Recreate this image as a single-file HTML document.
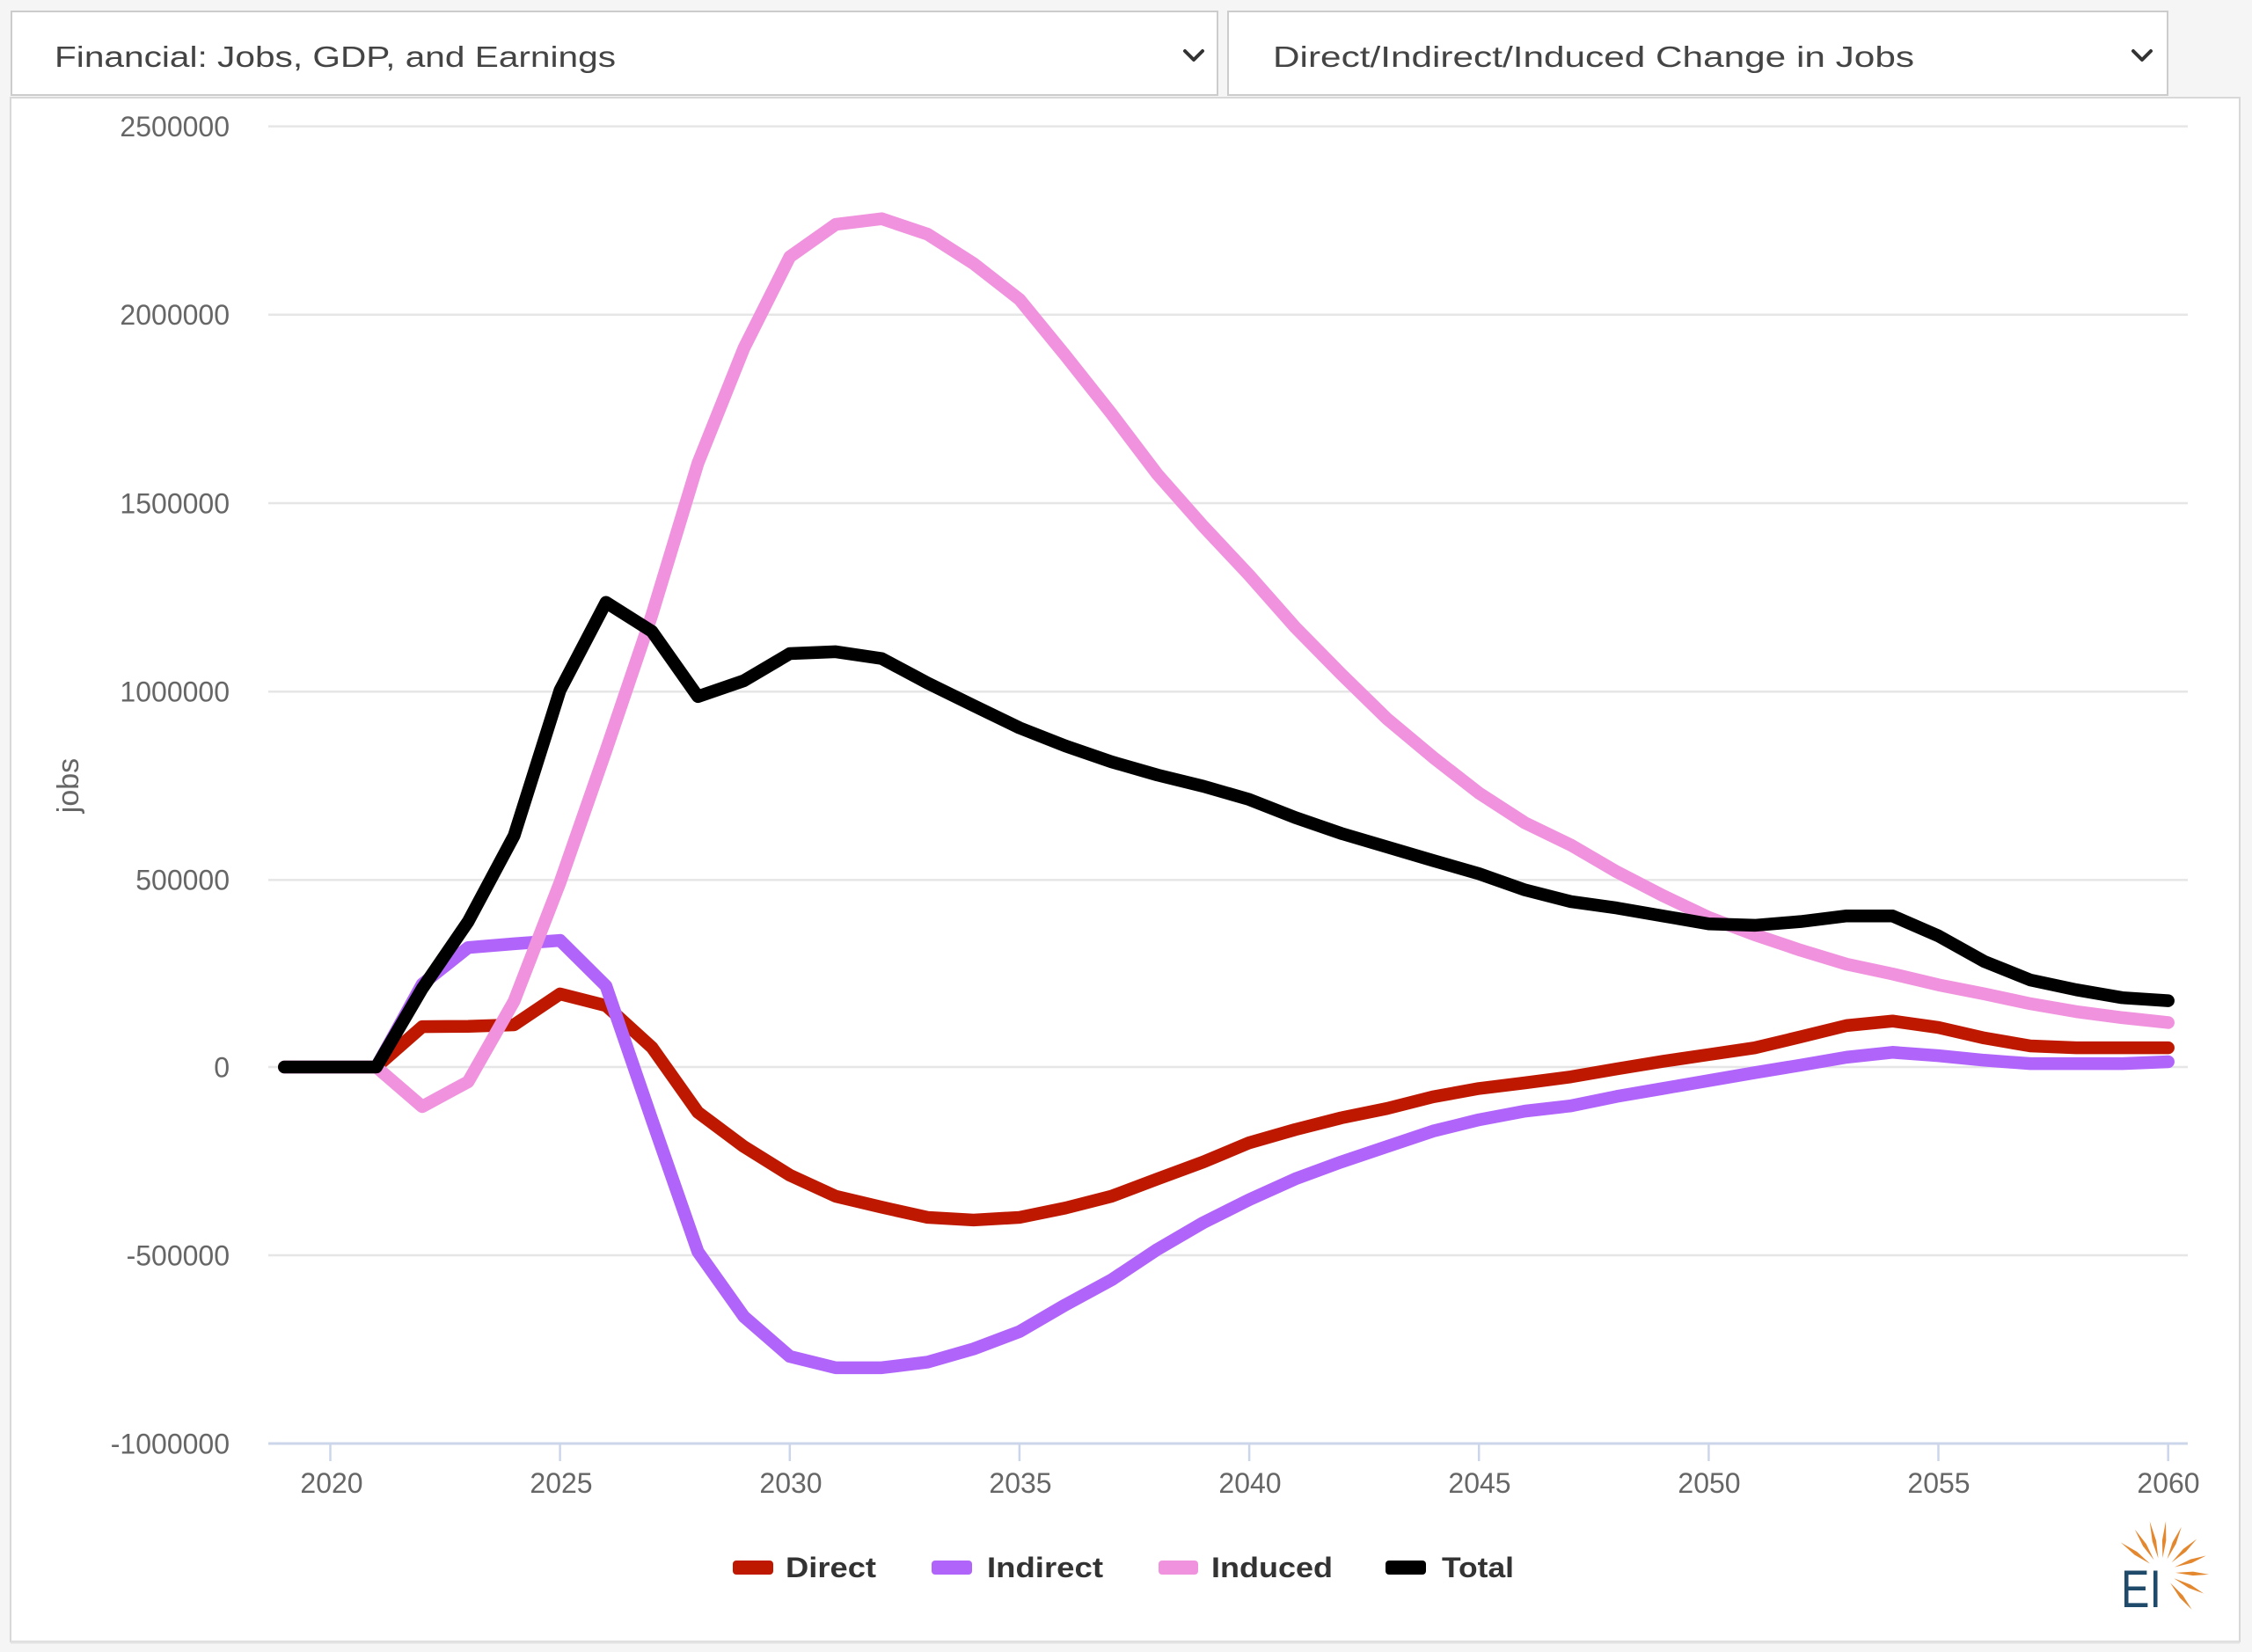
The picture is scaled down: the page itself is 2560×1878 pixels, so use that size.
<!DOCTYPE html>
<html>
<head>
<meta charset="utf-8">
<style>
  html,body{margin:0;padding:0;background:#f5f5f5;}
  body{width:2560px;height:1878px;overflow:hidden;}
  svg{display:block;}
</style>
</head>
<body>
<svg width="2560" height="1878" viewBox="0 0 2560 1878" xmlns="http://www.w3.org/2000/svg" font-family="'Liberation Sans', Arial, sans-serif">
  <rect x="0" y="0" width="2560" height="1878" fill="#f5f5f5"/>

  <rect x="12" y="111" width="2534" height="1755" fill="#ffffff" stroke="#d8d8d8" stroke-width="2"/>
  <line x1="12" y1="1867" x2="2546" y2="1867" stroke="#e2e2e2" stroke-width="3"/>

  <rect x="13" y="13" width="1371" height="95" fill="#ffffff" stroke="#cccccc" stroke-width="2"/>
  <text x="62" y="76" font-size="33" fill="#444444" textLength="638" lengthAdjust="spacingAndGlyphs">Financial: Jobs, GDP, and Earnings</text>
  <polyline points="1347,58 1357,68 1367,58" fill="none" stroke="#333" stroke-width="4" stroke-linecap="round" stroke-linejoin="round"/>

  <rect x="1396" y="13" width="1068" height="95" fill="#ffffff" stroke="#cccccc" stroke-width="2"/>
  <text x="1447" y="76" font-size="33" fill="#444444" textLength="729" lengthAdjust="spacingAndGlyphs">Direct/Indirect/Induced Change in Jobs</text>
  <polyline points="2425,58 2435,68 2445,58" fill="none" stroke="#333" stroke-width="4" stroke-linecap="round" stroke-linejoin="round"/>

  <g stroke="#e6e6e6" stroke-width="2.5">
    <line x1="305" y1="143.6" x2="2487" y2="143.6"/>
    <line x1="305" y1="357.8" x2="2487" y2="357.8"/>
    <line x1="305" y1="572" x2="2487" y2="572"/>
    <line x1="305" y1="786.2" x2="2487" y2="786.2"/>
    <line x1="305" y1="1000.4" x2="2487" y2="1000.4"/>
    <line x1="305" y1="1213" x2="2487" y2="1213"/>
    <line x1="305" y1="1427" x2="2487" y2="1427"/>
  </g>
  <line x1="305" y1="1641" x2="2487" y2="1641" stroke="#ccd6eb" stroke-width="3"/>
  <g stroke="#ccd6eb" stroke-width="2.5">
    <line x1="375.5" y1="1641" x2="375.5" y2="1661"/>
    <line x1="636.6" y1="1641" x2="636.6" y2="1661"/>
    <line x1="897.8" y1="1641" x2="897.8" y2="1661"/>
    <line x1="1158.9" y1="1641" x2="1158.9" y2="1661"/>
    <line x1="1420.1" y1="1641" x2="1420.1" y2="1661"/>
    <line x1="1681.2" y1="1641" x2="1681.2" y2="1661"/>
    <line x1="1942.4" y1="1641" x2="1942.4" y2="1661"/>
    <line x1="2203.5" y1="1641" x2="2203.5" y2="1661"/>
    <line x1="2464.7" y1="1641" x2="2464.7" y2="1661"/>
  </g>

  <g font-size="32" fill="#666666" text-anchor="end">
    <text x="261" y="155">2500000</text>
    <text x="261" y="369">2000000</text>
    <text x="261" y="583.5">1500000</text>
    <text x="261" y="797.5">1000000</text>
    <text x="261" y="1011.5">500000</text>
    <text x="261" y="1224.5">0</text>
    <text x="261" y="1438.5">-500000</text>
    <text x="261" y="1652.5">-1000000</text>
  </g>

  <g font-size="32" fill="#666666" text-anchor="middle">
    <text x="377" y="1697">2020</text>
    <text x="638" y="1697">2025</text>
    <text x="899" y="1697">2030</text>
    <text x="1160" y="1697">2035</text>
    <text x="1421" y="1697">2040</text>
    <text x="1682" y="1697">2045</text>
    <text x="1943" y="1697">2050</text>
    <text x="2204" y="1697">2055</text>
    <text x="2465" y="1697">2060</text>
  </g>

  <text transform="translate(89,893) rotate(-90)" font-size="34" fill="#666666" text-anchor="middle">jobs</text>

  <g transform="matrix(52.23 0 0 -0.4284 323.27 1213)" fill="none" stroke-linejoin="round" stroke-linecap="round">
    <polyline vector-effect="non-scaling-stroke" stroke="#be1900" stroke-width="14.5"
      points="0,0 1,0 2,0 3,107 4,108 5,112 6,194 7,163 8,52 9,-120 10,-211 11,-287 12,-343 13,-372 14,-399 15,-406 16,-399 17,-374 18,-343 19,-297 20,-252 21,-201 22,-166 23,-135 24,-110 25,-79 26,-57 27,-42 28,-26 29,-5 30,15 31,33 32,51 33,80 34,110 35,122 36,105 37,77 38,56 39,51 40,51 41,51"/>
    <polyline vector-effect="non-scaling-stroke" stroke="#b064fa" stroke-width="14.5"
      points="0,0 1,0 2,0 3,220 4,317 5,327 6,336 7,215 8,-140 9,-490 10,-662 11,-768 12,-798 13,-798 14,-783 15,-748 16,-702 17,-631 18,-565 19,-484 20,-413 21,-352 22,-297 23,-252 24,-211 25,-170 26,-140 27,-117 28,-103 29,-78 30,-57 31,-36 32,-15 33,5 34,26 35,39 36,30 37,18 38,9 39,9 40,9 41,14"/>
    <polyline vector-effect="non-scaling-stroke" stroke="#f092dd" stroke-width="14.5"
      points="0,0 1,0 2,0 3,-105 4,-39 5,175 6,490 7,840 8,1200 9,1602 10,1907 11,2150 12,2236 13,2251 14,2210 15,2132 16,2037 17,1888 18,1734 19,1573 20,1435 21,1305 22,1167 23,1043 24,924 25,822 26,727 27,648 28,589 29,518 30,455 31,397 32,351 33,310 34,273 35,247 36,218 37,194 38,168 39,147 40,131 41,118"/>
    <polyline vector-effect="non-scaling-stroke" stroke="#000000" stroke-width="14.5"
      points="0,0 1,0 2,0 3,208 4,386 5,614 6,1000 7,1233 8,1156 9,983 10,1025 11,1097 12,1102 13,1084 14,1019 15,959 16,900 17,852 18,810 19,775 20,745 21,710 22,662 23,620 24,584 25,548 26,513 27,470 28,439 29,422 30,401 31,380 32,376 33,386 34,401 35,401 36,348 37,280 38,231 39,205 40,184 41,176"/>
  </g>

  <rect x="833" y="1774" width="46" height="16" rx="4" fill="#be1900"/>
  <text x="893" y="1793" font-size="32" font-weight="bold" fill="#333333" textLength="103" lengthAdjust="spacingAndGlyphs">Direct</text>
  <rect x="1059" y="1774" width="46" height="16" rx="4" fill="#b064fa"/>
  <text x="1122" y="1793" font-size="32" font-weight="bold" fill="#333333" textLength="132" lengthAdjust="spacingAndGlyphs">Indirect</text>
  <rect x="1317" y="1774" width="45" height="16" rx="4" fill="#f092dd"/>
  <text x="1377" y="1793" font-size="32" font-weight="bold" fill="#333333" textLength="138" lengthAdjust="spacingAndGlyphs">Induced</text>
  <rect x="1575" y="1774" width="46" height="16" rx="4" fill="#000000"/>
  <text x="1639" y="1793" font-size="32" font-weight="bold" fill="#333333" textLength="82" lengthAdjust="spacingAndGlyphs">Total</text>

  <g fill="#e3882f">
    <g transform="translate(2457,1787) rotate(-144)"><polygon points="16,0 36,-2.2 57,0 36,2.2"/></g>
    <g transform="translate(2457,1787) rotate(-122)"><polygon points="16,0 36,-2.2 57,0 36,2.2"/></g>
    <g transform="translate(2457,1787) rotate(-103)"><polygon points="16,0 36,-2.2 59,0 36,2.2"/></g>
    <g transform="translate(2457,1787) rotate(-85)"><polygon points="16,0 36,-2.2 58,0 36,2.2"/></g>
    <g transform="translate(2457,1787) rotate(-66)"><polygon points="16,0 36,-2.2 56,0 36,2.2"/></g>
    <g transform="translate(2457,1787) rotate(-43)"><polygon points="16,0 36,-2.2 55,0 36,2.2"/></g>
    <g transform="translate(2457,1787) rotate(-20)"><polygon points="16,0 36,-2.2 54,0 36,2.2"/></g>
    <g transform="translate(2457,1787) rotate(3)"><polygon points="16,0 36,-2.2 54,0 36,2.2"/></g>
    <g transform="translate(2457,1787) rotate(27)"><polygon points="16,0 36,-2.2 54,0 36,2.2"/></g>
    <g transform="translate(2457,1787) rotate(51)"><polygon points="16,0 36,-2.2 55,0 36,2.2"/></g>
  </g>
  <text x="2411" y="1827" font-size="60" fill="#1f4a6a" textLength="46" lengthAdjust="spacingAndGlyphs">EI</text>
</svg>
</body>
</html>
